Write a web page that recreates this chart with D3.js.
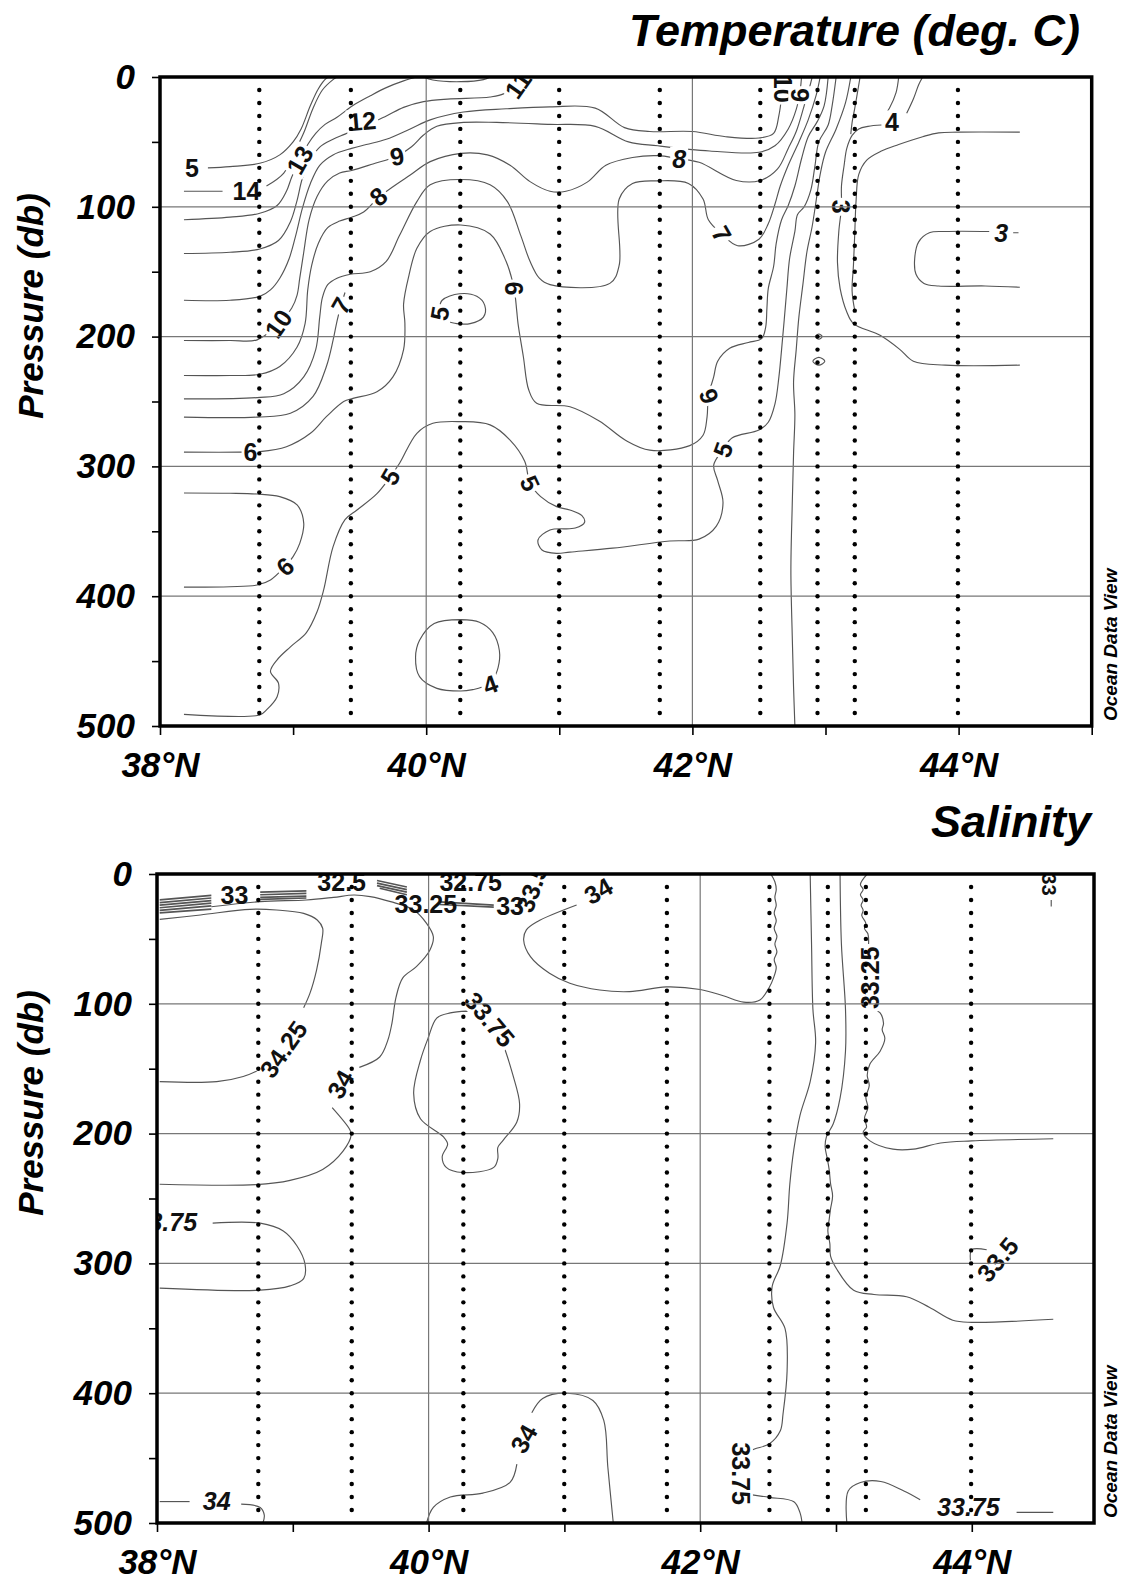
<!DOCTYPE html>
<html><head><meta charset="utf-8">
<script src="https://cdn.jsdelivr.net/npm/d3@7"></script>
<style>
body{margin:0;background:#fff}
text{font-family:"Liberation Sans",Arial,Helvetica,sans-serif}
</style></head>
<body><svg id="c" width="1133" height="1593"></svg>
<script>
// ---------------- shared ----------------
const stations = [38.746, 39.434, 40.256, 40.999, 41.755, 42.51, 42.94, 43.22, 43.995];
const sampleDepths = d3.range(10, 500, 10);
const pressureTicks = [0, 50, 100, 150, 200, 250, 300, 350, 400, 450, 500];
const pressureLabels = [0, 100, 200, 300, 400, 500];
const gridPressures = [100, 200, 300, 400];
const gridLats = [40, 42];
const latLabels = [38, 40, 42, 44];

// ---------------- temperature contours [lat, db] ----------------
const t15 = [[38.36,70],[38.526,69],[38.75,66.5],[38.9,60],[39.0,50],[39.06,40],[39.13,22],[39.19,9],[39.25,1],[39.27,0]];
const t14a = [[38.18,88],[38.47,88]];
const t14b = [[38.8,84],[38.93,74],[39.01,58],[39.08,43],[39.15,24],[39.22,10],[39.3,2],[39.33,0]];
const t13 = [[38.18,110],[38.526,108],[38.75,105],[38.88,99],[38.95,88],[38.99,77],[39.05,64],[39.11,52],[39.17,43.4],[39.24,36.5],[39.33,31],[39.45,22],[39.58,14.5],[39.7,8.2],[39.83,3],[39.93,0]];
const t12 = [[38.18,136],[38.526,135],[38.75,132.5],[38.89,126],[38.98,111.5],[39.03,95],[39.07,78],[39.13,64],[39.2,54],[39.3,48],[39.39,44],[39.52,38],[39.69,30.6],[39.83,23.4],[39.98,19],[40.16,17],[40.48,15.4],[40.58,13],[40.63,8],[40.66,0]];
const t11 = [[38.18,172],[38.526,172],[38.75,169],[38.83,164],[38.9,155],[38.97,140],[39.02,122],[39.07,101],[39.13,82],[39.2,68],[39.3,60],[39.44,55],[39.55,52],[39.7,48],[39.88,40],[40.03,33],[40.28,27],[40.6,24.5],[40.93,23],[41.27,24],[41.49,39],[41.68,42],[42.0,42],[42.25,46],[42.5,47],[42.61,43.4],[42.65,29.5],[42.67,15],[42.68,0]];
const t10 = [[38.18,203],[38.526,203],[38.73,202.5],[38.89,190],[38.99,178],[39.03,168],[39.05,155],[39.08,135],[39.12,110],[39.18,92],[39.26,80],[39.35,74],[39.44,72],[39.6,67],[39.78,61],[39.89,53.7],[39.98,44.7],[40.08,38],[40.28,35],[40.53,35],[40.93,36.5],[41.27,38],[41.52,50],[41.74,53],[42.13,57],[42.5,58],[42.62,53],[42.72,40],[42.78,25],[42.81,10],[42.82,0]];
const t9 = [[38.18,230],[38.526,230],[38.75,229],[38.9,223],[39.03,208],[39.09,190],[39.11,164],[39.14,145],[39.19,128],[39.26,116],[39.35,111],[39.44,108],[39.53,104],[39.64,93],[39.75,84.5],[39.88,75.5],[40.03,65.2],[40.26,58.8],[40.46,60],[40.63,68],[40.78,80.6],[40.93,88],[41.05,88],[41.21,81],[41.35,68],[41.55,62],[41.74,60.6],[41.9,63],[42.05,65.7],[42.33,79.7],[42.51,79.7],[42.64,70.8],[42.72,55],[42.78,42],[42.84,22],[42.88,8],[42.9,0]];
const t8 = [[38.18,248],[38.73,247],[38.93,244],[39.08,231],[39.17,210],[39.2,185],[39.22,170],[39.26,160],[39.33,155],[39.43,152],[39.58,150],[39.70,142],[39.80,122],[39.93,96],[40.03,83],[40.26,79],[40.48,83],[40.61,96],[40.71,122],[40.78,142],[40.85,155],[40.93,160],[41.38,159],[41.45,145],[41.45,94],[41.55,82],[41.74,80],[41.97,82],[42.08,94],[42.12,110],[42.22,121],[42.34,130],[42.5,125],[42.57,113],[42.62,98],[42.66,84],[42.72,68],[42.8,50],[42.87,33],[42.93,14],[42.96,0]];
const t7 = [[38.18,262],[38.73,262],[38.98,259],[39.15,246],[39.25,223],[39.30,203],[39.33,188],[39.36,176],[39.39,166]];
const t6 = [[38.18,289],[38.6,289],[38.75,288.6],[38.95,284.8],[39.13,274.5],[39.25,261.7],[39.38,250],[39.45,247.6],[39.63,242.5],[39.75,231],[39.83,210],[39.84,190],[39.83,175],[39.87,153],[39.93,132],[40.03,119],[40.26,114],[40.48,121],[40.6,142],[40.66,163],[40.68,180],[40.69,190],[40.73,215.5],[40.77,241],[40.83,251.4],[41.08,254],[41.3,265],[41.5,280],[41.68,287.5],[41.98,284],[42.08,276],[42.11,262],[42.12,246],[42.16,231],[42.19,219],[42.28,209],[42.42,204.5],[42.52,201.6],[42.55,193],[42.56,178],[42.57,163],[42.61,146],[42.63,128],[42.67,110],[42.72,99],[42.77,84],[42.82,63],[42.87,46],[42.94,34],[42.99,22],[43.02,0]];
const t5 = [[38.18,491],[38.75,491.5],[38.80,487.6],[38.88,477.4],[38.89,467],[38.83,458],[38.88,449],[38.98,439],[39.1,428],[39.18,412],[39.23,395],[39.30,362],[39.39,341],[39.48,333.6],[39.63,321],[39.73,308],[39.80,297.6],[39.93,274.5],[40.05,266.8],[40.26,265.5],[40.48,268],[40.63,279.7],[40.74,296],[40.78,313],[40.86,323.3],[40.98,331],[41.08,333.6],[41.17,338],[41.19,343],[41.12,347.5],[40.93,349],[40.84,356.7],[40.87,364.4],[40.98,367],[41.08,366],[41.4,363],[41.83,357.5],[42.05,356],[42.18,346],[42.23,328],[42.19,311],[42.16,299],[42.23,287],[42.30,278],[42.5,272],[42.57,266],[42.62,252],[42.65,231],[42.67,210],[42.69,187],[42.71,163],[42.73,140],[42.77,119],[42.79,106],[42.84,100],[42.89,87],[42.92,69],[42.95,50],[43.02,37],[43.05,22],[43.08,0]];
const tDeep = [[43.19,0],[43.15,20],[43.08,40],[43.0,58],[42.96,75],[42.93,95],[42.9,115],[42.86,135],[42.83,160],[42.8,185],[42.78,210],[42.76,235],[42.77,260],[42.76,290],[42.75,330],[42.74,380],[42.75,430],[42.76,470],[42.77,500]];
const t4top = [[43.73,0],[43.7,6],[43.66,17],[43.61,28]];
const t4mid = [[43.55,0],[43.53,12],[43.48,24],[43.44,30]];
const t3 = [[43.42,37],[43.32,38],[43.25,40],[43.2,45],[43.16,55],[43.14,68],[43.12,84],[43.12,100],[43.1,119],[43.09,143],[43.11,163],[43.16,181],[43.21,190],[43.41,199],[43.56,210],[43.66,219],[43.9,222],[44.46,222]];
const t3top = [[43.26,0],[43.24,12],[43.22,24],[43.2,35],[43.19,44]];
const tR43 = [[44.46,42.5],[44.0,42.5],[43.85,43],[43.73,46],[43.55,52],[43.42,57],[43.31,64],[43.25,75],[43.23,95],[43.22,120],[43.21,145],[43.2,165],[43.22,180]];
const t3loop = [[44.46,162],[44.2,161],[43.85,161],[43.74,159],[43.68,152],[43.67,140],[43.7,127],[43.78,120],[43.9,119],[44.23,119]];
const t3dash = [[44.41,120],[44.45,120]];
const t4loop = [[40.26,418],[40.4,420],[40.5,428],[40.55,442],[40.54,455],[40.5,464],[40.42,470],[40.35,472],[40.26,473],[40.08,471],[39.95,462],[39.92,447],[39.95,434],[40.06,421],[40.26,418]];
const t6bump = [[38.18,320.5],[38.526,320.7],[38.73,321.3],[38.9,323.3],[39.03,329.7],[39.08,343.9],[39.05,359.3],[39.0,369.5],[38.94,377],[38.83,387.5],[38.73,391.4],[38.526,392.7],[38.18,393]];
const t5loop = [[40.1,178],[40.12,172],[40.25,167],[40.38,169],[40.44,176],[40.43,185],[40.33,190],[40.23,190],[40.15,188]];
const tPocket = [[39.98,0],[40.05,2.3],[40.26,3.6],[40.43,2],[40.48,0]];
const tEll1 = [[42.925,200],[42.95,198],[42.975,200],[42.95,202]];
const tEll2 = [[42.905,219],[42.95,216],[42.995,219],[42.95,222]];

// labels: [text, lat, db, angle, italic, mask]
const tLabels = [
  ["5",38.24,70,0,0,1],["14",38.65,88,0,0,1],["13",39.05,64,-60,0,1],["12",39.52,34,-5,0,1],
  ["11",40.69,6,-55,0,1],["10",38.89,190,-55,0,1],["9",39.78,61,-10,0,1],["8",39.64,92,-40,0,1],
  ["7",39.36,176,-60,0,1],["6",40.66,163,90,0,1],["5",40.1,182,-80,0,1],["6",38.68,288.6,0,0,1],
  ["5",39.73,308,-60,0,1],["5",40.78,313,65,0,1],["6",38.94,377,-40,0,1],["4",40.48,468,-20,0,1],
  ["8",41.9,63,0,1,1],["7",42.22,121,60,0,1],["10",42.68,9,90,0,1],["9",42.81,14,90,0,1],
  ["6",42.12,246,-110,0,1],["5",42.23,287,-70,0,1],["3",43.12,100,90,0,1],["4",43.5,35,0,0,1],
  ["3",44.32,120,0,1,1]
];

// ---------------- salinity contours [lat, db] ----------------
const sBundleLeft = [
  [[38.02,20],[38.40,16.5]],[[38.02,22],[38.40,18.5]],[[38.02,24],[38.40,20.5]],
  [[38.02,26],[38.40,22.5]],[[38.02,28],[38.40,24.5]],[[38.02,30],[38.40,27]]
];
const sBundleMid = [[[38.76,14],[39.1,13]],[[38.76,16],[39.1,15]],[[38.76,18],[39.1,17]],[[38.76,19.5],[39.1,18.5]]];
const sBundleDiag = [[[39.62,5],[39.84,10]],[[39.62,7],[39.84,12]],[[39.62,9],[39.84,14]],[[39.64,11],[39.84,16]]];
const sBundleRight = [[[40.08,21.5],[40.48,24]],[[40.08,23.5],[40.48,25.5]]];
const s3425a = [[38.02,160],[38.44,160],[38.635,156],[38.75,151]];
const s3425b = [[39.08,103],[39.126,92],[39.175,74],[39.21,53.4],[39.22,41.8],[39.18,35.4],[39.08,30.3],[38.88,27.7],[38.685,27.2],[38.32,31.6],[38.02,35]];
const s34a = [[38.40,25.2],[38.76,21.3],[39.1,20],[39.3,18],[39.45,16.2],[39.57,17.4],[39.72,21.3],[39.89,27.7],[39.985,38],[40.035,48.3],[40.01,58.5],[39.91,71.4],[39.81,80],[39.76,95],[39.73,115],[39.7,128],[39.64,141],[39.49,149]];
const s34b = [[39.29,180],[39.42,197],[39.43,201],[39.37,213.5],[39.22,227.6],[38.98,236],[38.73,239.3],[38.02,239]];
const s3375loop = [[40.28,105.6],[40.45,110],[40.54,129],[40.62,154.6],[40.67,177],[40.65,191],[40.55,205],[40.51,210.6],[40.51,219],[40.48,226],[40.25,230],[40.13,226],[40.10,218],[40.14,208],[40.11,202.6],[39.94,188.6],[39.89,169],[39.94,143.5],[39.996,126.6],[40.06,111],[40.16,107],[40.28,105.6]];
const s3375left = [[38.41,269],[38.76,269],[38.93,275],[39.03,286.4],[39.09,300.5],[39.08,311.7],[38.98,317.3],[38.76,320.6],[38.02,319]];
const s34blA = [[38.02,483.5],[38.24,483.5]];
const s34blB = [[38.62,485.5],[38.76,488],[38.79,494],[38.78,500]];
const s34domeA = [[39.985,500],[40.035,488],[40.16,480],[40.40,477],[40.60,468.7],[40.65,454.6]];
const s34domeB = [[40.76,415],[40.84,404],[41.02,400],[41.21,405.6],[41.29,421],[41.32,457],[41.36,500]];
const s34right = [[41.09,23.9],[40.8,36.7],[40.72,43.1],[40.7,50.8],[40.75,63.7],[40.89,76.5],[41.04,84.2],[41.26,89.4],[41.48,90.6],[41.75,87],[42.0,89],[42.17,93.8],[42.32,98.7],[42.44,97],[42.51,87],[42.54,80],[42.56,72],[42.545,66],[42.565,60],[42.55,54],[42.565,48],[42.545,42],[42.56,36],[42.545,30],[42.56,24],[42.55,18],[42.56,12],[42.55,6],[42.52,0]];
const sV1a = [[42.81,0],[42.82,54],[42.83,104],[42.85,130],[42.81,160],[42.735,186],[42.69,212],[42.66,239],[42.64,268.8],[42.59,301.6],[42.53,317.8],[42.54,334],[42.625,350.3],[42.64,383],[42.61,416],[42.59,429],[42.51,439],[42.40,443],[42.34,445.7]];
const sV1b = [[42.36,478],[42.51,480.3],[42.69,483.6],[42.735,492],[42.75,500]];
const sV2 = [[43.03,0],[43.04,54],[43.07,104],[43.07,136.5],[43.03,172.7],[42.98,192.4],[42.93,202.3],[42.92,210],[42.935,218.8],[42.95,228],[42.96,238.5],[42.975,248],[42.96,258],[42.95,266],[42.94,275],[42.955,285],[42.96,294.4],[43.005,304.3],[43.13,320.7],[43.28,324],[43.52,325.7],[43.69,334],[43.86,343.8],[44.0,345.4],[44.6,343]];
const sV3a = [[43.23,0],[43.18,8],[43.2,12],[43.18,16],[43.2,20],[43.185,24],[43.2,28],[43.19,32],[43.22,38],[43.21,42],[43.235,46],[43.24,54]];
const sV3b = [[43.275,103.6],[43.325,107],[43.35,115],[43.34,120],[43.36,126.6],[43.325,136.5],[43.25,146.4],[43.23,155],[43.245,163],[43.22,172],[43.235,180],[43.21,188],[43.225,195],[43.2,199],[43.25,205.6],[43.42,212],[43.57,212],[43.77,207.2],[44.0,205.6],[44.6,204]];
const s335 = [[43.99,297.7],[44.0,289.5],[44.11,289.5]];
const s3375brA = [[43.08,500],[43.09,475.3],[43.18,468.8],[43.33,468],[43.5,475.3],[43.62,482]];
const s3375brB = [[44.33,491.8],[44.6,491.8]];
const sTR = [[44.585,20],[44.585,25]];

const sLabels = [
  ["33",38.57,16,0,0,0],["32.5",39.36,6,0,0,0],["33.25",39.98,23,0,0,0],["32.75",40.31,6,0,0,0],
  ["33",40.6,25,0,0,0],["33.5",40.76,11,-70,0,0],["34",41.25,13,-30,0,1],
  ["34.25",38.93,135,-55,0,1],["34",39.35,162,-60,0,1],["33.75",40.45,112,50,0,1],
  ["34",38.44,483,0,1,1],["34",40.7,435,-60,0,1],["33.25",43.25,80,-90,0,1],
  ["33.5",44.19,297,-50,0,1],["33.75",42.3,462,90,0,1],["33.75",43.975,488,0,1,1]
];

// ---------------- drawing ----------------
const svg = d3.select('#c');
const defs = svg.append('defs');
const FONT = '"Liberation Sans",Arial,Helvetica,sans-serif';

function drawPanel(cfg){
  const x = d3.scaleLinear().domain(cfg.latDomain).range(cfg.xRange);
  const y = d3.scaleLinear().domain([0,500]).range(cfg.yRange);
  const [x0,x1] = cfg.xRange, [y0,y1] = cfg.yRange;
  defs.append('clipPath').attr('id','clip'+cfg.id).append('rect')
    .attr('x',x0).attr('y',y0).attr('width',x1-x0).attr('height',y1-y0);
  const g = svg.append('g');
  const inner = g.append('g').attr('clip-path',`url(#clip${cfg.id})`);

  const smooth = d3.line().x(d=>x(d[0])).y(d=>y(d[1])).curve(d3.curveCatmullRom.alpha(0.5));
  const straight = d3.line().x(d=>x(d[0])).y(d=>y(d[1]));
  const closed = d3.line().x(d=>x(d[0])).y(d=>y(d[1])).curve(d3.curveCatmullRomClosed.alpha(0.5));

  inner.append('g').selectAll('path').data(cfg.contours).join('path')
    .attr('d',d=>smooth(d)).attr('fill','none').attr('stroke','#555').attr('stroke-width',1.15);
  inner.append('g').selectAll('path').data(cfg.closedLoops||[]).join('path')
    .attr('d',d=>closed(d)).attr('fill','none').attr('stroke','#555').attr('stroke-width',1.1);
  inner.append('g').selectAll('path').data(cfg.bundles||[]).join('path')
    .attr('d',d=>straight(d)).attr('fill','none').attr('stroke','#555').attr('stroke-width',1.7);

  // contour labels
  const lg = inner.append('g');
  const styleLabel = (t,ital,size)=>t.attr('dominant-baseline','central')
      .attr('font-size', size).attr('font-style', ital? 'italic':'normal')
      .attr('font-weight','bold').attr('fill','#111');
  cfg.labels.forEach(l=>{
    const [txt,lat,p,ang,ital,mask] = l;
    const gg = lg.append('g').attr('transform',`translate(${x(lat)},${y(p)}) rotate(${ang})`);
    const t = styleLabel(gg.append('text').text(txt).attr('text-anchor','middle'), ital, 25);
    if(mask){
      const b = t.node().getBBox();
      gg.insert('rect','text').attr('x',b.x-2).attr('y',b.y+2).attr('width',b.width+4).attr('height',b.height-4).attr('fill','#fff');
    }
  });
  (cfg.extraLabels||[]).forEach(l=>{
    const [txt,lat,p,ang,ital,anchor,size] = l;
    styleLabel(lg.append('g').attr('transform',`translate(${x(lat)},${y(p)}) rotate(${ang})`)
      .append('text').text(txt).attr('text-anchor',anchor), ital, size);
  });

  // grid
  g.append('g').selectAll('line').data(gridPressures).join('line')
    .attr('x1',x0).attr('x2',x1).attr('y1',d=>y(d)).attr('y2',d=>y(d))
    .attr('stroke','#777').attr('stroke-width',1.2);
  g.append('g').selectAll('line').data(gridLats).join('line')
    .attr('x1',d=>x(d)).attr('x2',d=>x(d)).attr('y1',y0).attr('y2',y1)
    .attr('stroke','#777').attr('stroke-width',1.2);

  // station dots
  const pts = [];
  stations.forEach(s=>sampleDepths.forEach(p=>pts.push([s,p])));
  g.append('g').selectAll('circle').data(pts).join('circle')
    .attr('cx',d=>x(d[0])).attr('cy',d=>y(d[1])).attr('r',2.2).attr('fill','#000');

  // border
  g.append('rect').attr('x',x0).attr('y',y0).attr('width',x1-x0).attr('height',y1-y0)
    .attr('fill','none').attr('stroke','#000').attr('stroke-width',3.5);

  // axes
  const ya = d3.axisLeft(y).tickValues(pressureTicks).tickSize(8).tickPadding(17)
    .tickFormat(d=>pressureLabels.includes(d)? String(d):'');
  const yg = g.append('g').attr('transform',`translate(${x0},0)`).call(ya);
  const xa = d3.axisBottom(x).tickValues(cfg.latTicks).tickSize(9).tickPadding(17)
    .tickFormat(d=>latLabels.includes(d)? d+'°N':'');
  const xg = g.append('g').attr('transform',`translate(0,${y1})`).call(xa);
  [yg,xg].forEach(a=>{
    a.select('.domain').remove();
    a.selectAll('line').attr('stroke','#000').attr('stroke-width',1.6);
    a.selectAll('text').attr('font-family',FONT).attr('font-size',35).attr('font-weight','bold')
      .attr('font-style','italic').attr('fill','#000');
  });

  // titles
  g.append('text').text(cfg.title).attr('x',cfg.titleX).attr('y',cfg.titleY)
    .attr('text-anchor','end').attr('font-size',45).attr('font-weight','bold').attr('font-style','italic');
  g.append('text').text('Pressure (db)')
    .attr('transform',`translate(43,${y0 + 229}) rotate(-90)`)
    .attr('text-anchor','middle').attr('font-size',35).attr('font-weight','bold').attr('font-style','italic');
  g.append('text').text('Ocean Data View')
    .attr('transform',`translate(1117,${y1-5}) rotate(-90)`)
    .attr('text-anchor','start').attr('font-size',19).attr('font-weight','bold').attr('font-style','italic');
}

drawPanel({
  id:'T', latDomain:[38,45], xRange:[160,1091.7], yRange:[77,726],
  latTicks:[38,39,40,41,42,43,44,45],
  title:'Temperature (deg. C)', titleX:1080, titleY:46,
  contours:[t15,t14a,t14b,t13,t12,t11,t10,t9,t8,t7,t6,t5,tDeep,t4top,t4mid,t3,t3top,tR43,t3loop,t3dash,t4loop,t6bump,t5loop,tPocket],
  closedLoops:[tEll1,tEll2],
  labels:tLabels
});

drawPanel({
  id:'S', latDomain:[38,44.9], xRange:[157,1094], yRange:[874,1523],
  latTicks:[38,39,40,41,42,43,44],
  title:'Salinity', titleX:1091, titleY:837,
  contours:[s3425a,s3425b,s34a,s34b,s3375loop,s3375left,s34blA,s34blB,s34domeA,s34domeB,s34right,sV1a,sV1b,sV2,sV3a,sV3b,s335,s3375brA,s3375brB,sTR],
  bundles:[...sBundleLeft,...sBundleMid,...sBundleDiag,...sBundleRight],
  labels:sLabels,
  extraLabels:[["33.75",38.295,268,0,1,'end',25],["33",44.57,8,90,0,'middle',20]]
});
</script></body></html>
